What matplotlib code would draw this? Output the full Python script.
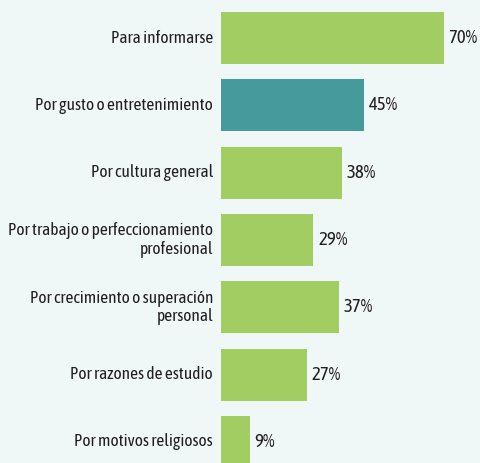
import matplotlib.pyplot as plt
from matplotlib import font_manager

# Motivos de lectura (%)
categories = [
    "Para informarse",
    "Por gusto o entretenimiento",
    "Por cultura general",
    "Por trabajo o perfeccionamiento\nprofesional",
    "Por crecimiento o superación\npersonal",
    "Por razones de estudio",
    "Por motivos religiosos",
]
values = [70, 45, 38, 29, 37, 27, 9]
highlight = "Por gusto o entretenimiento"

bg = "#f0f8f7"
green = "#a2cd63"
teal = "#469a9b"
ink = "#231f20"

# condensed face close to the original, first one found
names = {f.name for f in font_manager.fontManager.ttflist}
wanted = ["Asap Condensed", "Barlow Condensed", "Archivo Narrow", "Liberation Sans Narrow"]
fam = [n for n in wanted if n in names][:1] + ["DejaVu Sans"]
plt.rcParams["font.family"] = fam

fig = plt.figure(figsize=(4.8, 4.63), dpi=100, facecolor=bg)
ax = fig.add_axes([221 / 480, 0, 259 / 480, 1])
ax.set_facecolor(bg)

colors = [teal if c == highlight else green for c in categories]
ypos = list(range(len(categories)))
ax.barh(ypos, values, height=0.77, color=colors)

for y, v, c in zip(ypos, values, categories):
    ax.text(v + 1.5, y, f"{v}%", va="center", ha="left", fontsize=13.5, color=ink)
    ax.text(-2.5, y, c, va="center", ha="right", fontsize=12.5, color=ink,
            linespacing=1.12, clip_on=False)

ax.set_xlim(0, 259 / 3.18)
ax.set_ylim(6 + 21 / 67.33, -38 / 67.33)
ax.axis("off")

fig.savefig("out.png", dpi=100, facecolor=bg)
